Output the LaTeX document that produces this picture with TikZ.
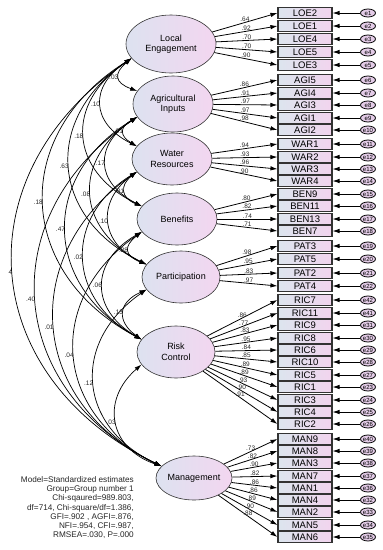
\documentclass[tikz,border=0pt]{standalone}
\usepackage{fontspec}
\setmainfont{Liberation Sans}
\usepackage{tikz}
\usetikzlibrary{shapes,arrows.meta,positioning,calc}

\definecolor{latleft}{HTML}{DDE2F0}
\definecolor{latright}{HTML}{F3D6F0}
\definecolor{boxleft}{HTML}{DCE5EE}
\definecolor{boxright}{HTML}{F2D4EE}
\definecolor{errfill}{HTML}{E4CCE8}

\begin{document}
\begin{tikzpicture}[x=1pt, y=-1pt,
    latent/.style={ellipse, draw=black!80, line width=0.6pt, left color=latleft, right color=latright, inner sep=0pt, align=center, font=\fontsize{9}{10.5}\selectfont},
    indbox/.style={rectangle, draw=black!80, line width=1.1pt, left color=boxleft, right color=boxright, minimum width=54pt, minimum height=11pt, inner sep=0pt, font=\fontsize{9.5}{10}\selectfont},
    errnode/.style={ellipse, draw=black, line width=0.8pt, fill=errfill, minimum width=15pt, minimum height=8pt, inner sep=0pt, font=\fontsize{6}{6}\selectfont},
    arrow/.style={-{Latex[length=7pt,width=4.5pt]}, line width=0.8pt},
    cov/.style={{Latex[length=7pt,width=4.5pt]}-{Latex[length=7pt,width=4.5pt]}, line width=0.7pt},
    loadlab/.style={font=\fontsize{6.5}{6.5}\selectfont, inner sep=0.5pt, text=black!85},
    covlab/.style={font=\fontsize{6.5}{6.5}\selectfont, inner sep=0.5pt, text=black!85},
    fittext/.style={align=right, inner sep=0pt, font=\fontsize{8.2}{9.3}\selectfont, text=black!85}]

\useasboundingbox (0,0) rectangle (383,550);

% Latent constructs
\node[latent, minimum width=90pt, minimum height=58pt] (loceng) at (171,44) {Local\\Engagement};
\node[latent, minimum width=80pt, minimum height=56pt] (agri) at (173,104) {Agricultural\\Inputs};
\node[latent, minimum width=80pt, minimum height=52pt] (water) at (172,159) {Water\\Resources};
\node[latent, minimum width=80pt, minimum height=52pt] (benef) at (177,219) {Benefits};
\node[latent, minimum width=78pt, minimum height=52pt] (partic) at (181,277) {Participation};
\node[latent, minimum width=78pt, minimum height=52pt] (risk) at (176,352) {Risk\\Control};
\node[latent, minimum width=76pt, minimum height=44pt] (mgmt) at (194,478) {Management};

% Observed items, error terms and loadings
\foreach \lat/\ind/\y/\err/\val in {
    loceng/LOE2/13/e1/.64, loceng/LOE1/26/e2/.92, loceng/LOE4/39/e3/.70, loceng/LOE5/52/e4/.70, loceng/LOE3/65/e5/.90,
    agri/AGI5/80/e6/.86, agri/AGI4/93/e7/.91, agri/AGI3/105/e8/.97, agri/AGI1/118/e9/.97, agri/AGI2/130/e10/.98,
    water/WAR1/144/e11/.94, water/WAR2/157/e12/.93, water/WAR3/169/e13/.96, water/WAR4/181/e14/.90,
    benef/BEN9/194/e15/.80, benef/BEN11/206/e16/.82, benef/BEN13/219/e17/.74, benef/BEN7/231/e18/.71,
    partic/PAT3/246/e19/.98, partic/PAT5/259/e20/.95, partic/PAT2/273/e21/.83, partic/PAT4/286/e22/.97,
    risk/RIC7/300/e42/.86, risk/RIC11/313/e41/.77, risk/RIC9/325/e31/.83, risk/RIC8/338/e30/.95,
    risk/RIC6/350/e29/.84, risk/RIC10/362/e28/.85, risk/RIC5/375/e27/.89, risk/RIC1/387/e23/.89,
    risk/RIC3/400/e24/.93, risk/RIC4/412/e25/.90, risk/RIC2/424/e26/.91,
    mgmt/MAN9/439/e40/.73, mgmt/MAN8/451/e39/.82, mgmt/MAN3/463/e38/.90, mgmt/MAN7/476/e37/.82,
    mgmt/MAN1/488/e36/.86, mgmt/MAN4/500/e32/.86, mgmt/MAN2/512/e33/.89, mgmt/MAN5/525/e34/.90,
    mgmt/MAN6/537/e35/.88} {
  \node[indbox] (\ind) at (305,\y) {\ind};
  \node[errnode] (\err) at (368,\y) {\err};
  \draw[arrow] (\err) -- (\ind);
  \draw[arrow] (\lat) -- node[loadlab, pos=0.5, above] {\val} (\ind.west);
}

% Covariances between constructs
\foreach \a/\b/\val/\loose in {
    loceng/agri/.03/1.85, loceng/water/.10/1.49, loceng/benef/.18/1.40, loceng/partic/.63/1.33,
    loceng/risk/.18/1.30, loceng/mgmt/4/1.29,
    agri/water/.01/1.78, agri/benef/.17/1.49, agri/partic/.08/1.36, agri/risk/.47/1.30, agri/mgmt/.40/1.28,
    water/benef/.01/1.64, water/partic/.10/1.39, water/risk/.02/1.30, water/mgmt/.01/1.27,
    benef/partic/.28/1.84, benef/risk/.06/1.42, benef/mgmt/.04/1.30,
    partic/risk/.13/1.59, partic/mgmt/.12/1.34,
    risk/mgmt/.03/1.36} {
  \draw[cov] (\a.200) to[bend right=60, looseness=\loose] node[covlab, midway, left] {\val} (\b.160);
}

% Fit statistics
\node[fittext, anchor=north east] (fit) at (134,476) {Model=Standardized estimates\\
    Group=Group number 1\\
    Chi-sqaured=989.803,\\
    df=714, Chi-square/df=1.386,\\
    GFI=.902 , AGFI=.876,\\
    NFI=.954, CFI=.987,\\
    RMSEA=.030, P=.000};

\end{tikzpicture}
\end{document}
